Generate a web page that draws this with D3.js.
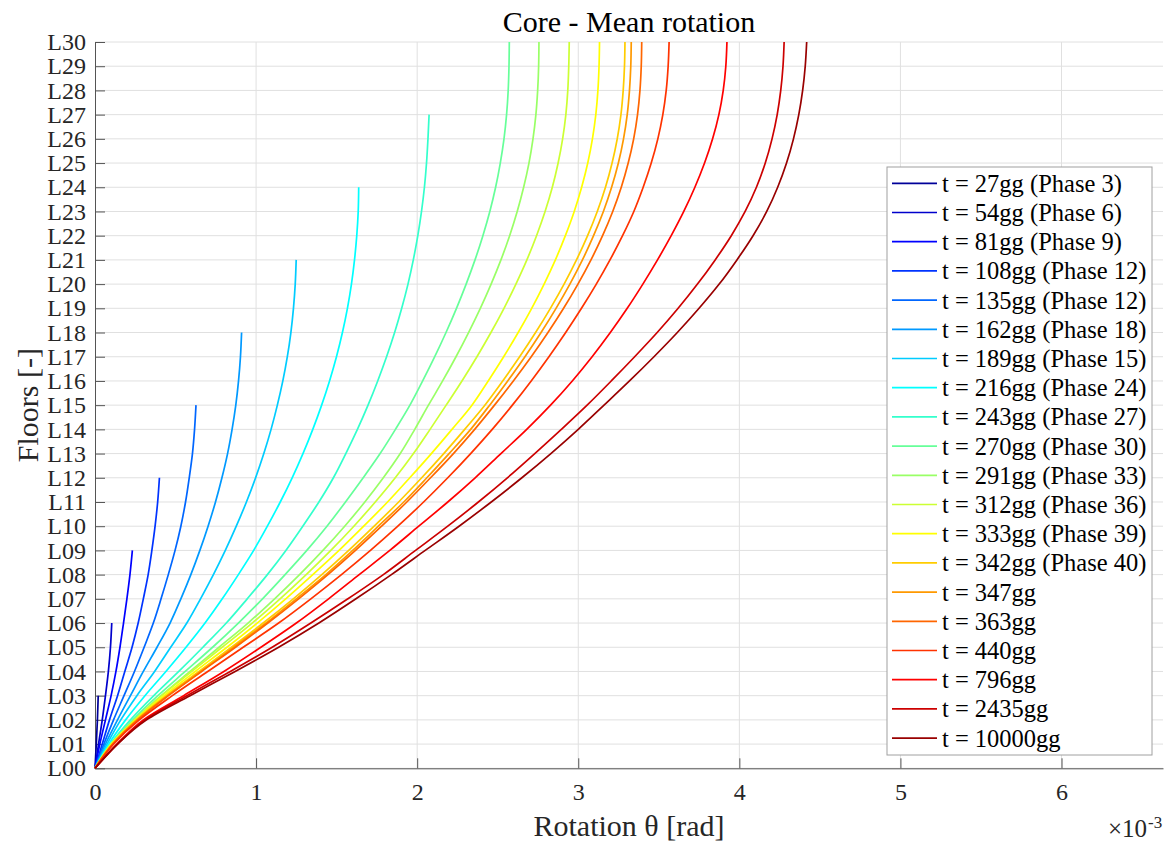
<!DOCTYPE html>
<html>
<head>
<meta charset="utf-8">
<script src="https://cdn.jsdelivr.net/npm/d3@7"></script>
<style>
  body { margin: 0; background: #fff; }
  text { font-family: "Liberation Serif", "Times New Roman", serif; }
</style>
</head>
<body>
<svg id="chart" width="1170" height="843"></svg>
<script>
// rotation values (x 1e-3 rad), one value per floor starting at L00
const s27 = [0, 0.008, 0.015, 0.02];
const s54 = [0, 0.022, 0.045, 0.065, 0.083, 0.096, 0.104];
const s81 = [0, 0.03, 0.065, 0.10, 0.13, 0.155, 0.177, 0.198, 0.217, 0.232];
const s108 = [0, 0.045, 0.09, 0.14, 0.185, 0.23, 0.268, 0.30, 0.33, 0.353, 0.373, 0.389, 0.40];
const s135 = [0, 0.055, 0.115, 0.18, 0.245, 0.305, 0.362, 0.41, 0.455, 0.497, 0.533, 0.562, 0.585, 0.605, 0.618, 0.627];
const s162 = [0, 0.065, 0.14, 0.22, 0.30, 0.385, 0.466, 0.533, 0.595, 0.651, 0.702, 0.748, 0.788, 0.823, 0.851, 0.874, 0.891, 0.903, 0.91];
const s189 = [0, 0.075, 0.16, 0.26, 0.37, 0.47, 0.57, 0.655, 0.735, 0.809, 0.877, 0.94, 0.997, 1.048, 1.093, 1.132, 1.166, 1.194, 1.216, 1.232, 1.243, 1.249];
const s216 = [0, 0.085, 0.19, 0.31, 0.44, 0.565, 0.683, 0.79, 0.89, 0.985, 1.07, 1.15, 1.224, 1.291, 1.352, 1.407, 1.456, 1.499, 1.536, 1.567, 1.592, 1.611, 1.625, 1.634, 1.637];
const s243 = [0, 0.095, 0.22, 0.365, 0.52, 0.67, 0.815, 0.945, 1.07, 1.185, 1.29, 1.39, 1.48, 1.557, 1.629, 1.695, 1.755, 1.81, 1.86, 1.904, 1.943, 1.976, 2.004, 2.027, 2.045, 2.058, 2.067, 2.074];
const s270 = [0, 0.1, 0.235, 0.39, 0.56, 0.73, 0.89, 1.04, 1.18, 1.315, 1.44, 1.555, 1.665, 1.77, 1.865, 1.955, 2.034, 2.109, 2.179, 2.244, 2.304, 2.359, 2.408, 2.451, 2.487, 2.516, 2.539, 2.555, 2.565, 2.57, 2.572];
const s291 = [0, 0.1, 0.245, 0.41, 0.59, 0.77, 0.95, 1.115, 1.27, 1.415, 1.55, 1.675, 1.79, 1.895, 1.985, 2.07, 2.158, 2.241, 2.319, 2.392, 2.459, 2.52, 2.574, 2.621, 2.661, 2.694, 2.719, 2.737, 2.748, 2.754, 2.756];
const s312 = [0, 0.099, 0.247, 0.414, 0.601, 0.789, 0.976, 1.149, 1.311, 1.464, 1.607, 1.74, 1.864, 1.977, 2.08, 2.18, 2.278, 2.371, 2.458, 2.539, 2.613, 2.681, 2.741, 2.794, 2.839, 2.875, 2.903, 2.923, 2.935, 2.941, 2.944];
const s333 = [0, 0.104, 0.252, 0.429, 0.622, 0.819, 1.007, 1.184, 1.352, 1.515, 1.668, 1.816, 1.954, 2.088, 2.216, 2.34, 2.441, 2.537, 2.627, 2.711, 2.788, 2.858, 2.92, 2.975, 3.021, 3.059, 3.088, 3.109, 3.122, 3.129, 3.132];
const s342 = [0, 0.108, 0.256, 0.443, 0.645, 0.847, 1.044, 1.231, 1.408, 1.575, 1.733, 1.885, 2.028, 2.165, 2.295, 2.42, 2.531, 2.636, 2.735, 2.827, 2.912, 2.989, 3.058, 3.118, 3.169, 3.21, 3.242, 3.265, 3.279, 3.287, 3.29];
const s347 = [0, 0.109, 0.262, 0.45, 0.657, 0.86, 1.062, 1.25, 1.433, 1.60, 1.759, 1.917, 2.06, 2.198, 2.332, 2.45, 2.562, 2.669, 2.769, 2.862, 2.948, 3.026, 3.095, 3.156, 3.207, 3.249, 3.281, 3.304, 3.318, 3.326, 3.329];
const s363 = [0, 0.11, 0.265, 0.456, 0.662, 0.872, 1.073, 1.264, 1.446, 1.617, 1.779, 1.936, 2.083, 2.225, 2.357, 2.48, 2.597, 2.708, 2.812, 2.909, 2.998, 3.079, 3.151, 3.214, 3.267, 3.31, 3.344, 3.368, 3.383, 3.391, 3.394];
const s440 = [0, 0.115, 0.275, 0.48, 0.70, 0.92, 1.14, 1.34, 1.53, 1.71, 1.88, 2.04, 2.19, 2.332, 2.466, 2.591, 2.708, 2.818, 2.922, 3.02, 3.112, 3.197, 3.275, 3.345, 3.403, 3.453, 3.494, 3.525, 3.546, 3.558, 3.564];
const s796 = [0, 0.135, 0.30, 0.55, 0.80, 1.03, 1.25, 1.45, 1.64, 1.83, 2.01, 2.19, 2.36, 2.52, 2.68, 2.828, 2.963, 3.086, 3.199, 3.304, 3.401, 3.492, 3.577, 3.655, 3.724, 3.784, 3.834, 3.873, 3.90, 3.916, 3.923];
const s2435 = [0, 0.14, 0.31, 0.57, 0.84, 1.10, 1.34, 1.57, 1.79, 1.99, 2.19, 2.38, 2.56, 2.73, 2.895, 3.055, 3.205, 3.35, 3.49, 3.62, 3.74, 3.85, 3.95, 4.036, 4.106, 4.161, 4.203, 4.235, 4.257, 4.271, 4.278];
const s10000 = [0, 0.14, 0.32, 0.59, 0.87, 1.14, 1.39, 1.62, 1.84, 2.05, 2.26, 2.46, 2.65, 2.83, 3.00, 3.16, 3.318, 3.47, 3.615, 3.75, 3.875, 3.985, 4.085, 4.17, 4.238, 4.293, 4.336, 4.369, 4.393, 4.409, 4.418];

const seriesNames = [
  't = 27gg (Phase 3)', 't = 54gg (Phase 6)', 't = 81gg (Phase 9)', 't = 108gg (Phase 12)',
  't = 135gg (Phase 12)', 't = 162gg (Phase 18)', 't = 189gg (Phase 15)', 't = 216gg (Phase 24)',
  't = 243gg (Phase 27)', 't = 270gg (Phase 30)', 't = 291gg (Phase 33)', 't = 312gg (Phase 36)',
  't = 333gg (Phase 39)', 't = 342gg (Phase 40)', 't = 347gg', 't = 363gg',
  't = 440gg', 't = 796gg', 't = 2435gg', 't = 10000gg'
];
const seriesValues = [s27, s54, s81, s108, s135, s162, s189, s216, s243, s270,
  s291, s312, s333, s342, s347, s363, s440, s796, s2435, s10000];

const floorTicks = d3.range(0, 31);
const floorLabels = floorTicks.map(f => 'L' + String(f).padStart(2, '0'));
const xTicks = [0, 1, 2, 3, 4, 5, 6];

// jet(20) colormap, same as matlab
const jet = [
  [0,0,0.6],[0,0,0.8],[0,0,1],[0,0.2,1],[0,0.4,1],[0,0.6,1],[0,0.8,1],[0,1,1],
  [0.2,1,0.8],[0.4,1,0.6],[0.6,1,0.4],[0.8,1,0.2],[1,1,0],[1,0.8,0],[1,0.6,0],
  [1,0.4,0],[1,0.2,0],[1,0,0],[0.8,0,0],[0.6,0,0]
].map(c => d3.rgb(c[0]*255, c[1]*255, c[2]*255).formatHex());

const svg = d3.select('#chart');
const pLeft = 95, pRight = 1163, pTop = 42, pBottom = 768.3;

const x = d3.scaleLinear().domain([0, 6.63]).range([pLeft, pRight]);
const y = d3.scaleLinear().domain([0, 30]).range([pBottom, pTop]);

// grid
const grid = svg.append('g').attr('class', 'grid');
grid.selectAll('line.h').data(floorTicks).enter().append('line')
  .attr('x1', pLeft).attr('x2', pRight)
  .attr('y1', d => y(d)).attr('y2', d => y(d))
  .attr('stroke', '#e0e0e0').attr('stroke-width', 1);
grid.selectAll('line.v').data(xTicks.slice(1)).enter().append('line')
  .attr('x1', d => x(d)).attr('x2', d => x(d))
  .attr('y1', pTop).attr('y2', pBottom)
  .attr('stroke', '#e0e0e0').attr('stroke-width', 1);

// axes, ticks pointing inwards
const yAxis = svg.append('g')
  .attr('transform', `translate(${pLeft},0)`)
  .call(d3.axisLeft(y).tickValues(floorTicks).tickFormat((d, i) => floorLabels[i])
    .tickSizeInner(-10).tickSizeOuter(0).tickPadding(9));
const xAxis = svg.append('g')
  .attr('transform', `translate(0,${pBottom})`)
  .call(d3.axisBottom(x).tickValues(xTicks).tickFormat(d3.format('d'))
    .tickSizeInner(-10).tickSizeOuter(0).tickPadding(15));
[yAxis, xAxis].forEach(a => {
  a.attr('font-family', '"Liberation Serif", serif');
  a.select('.domain').attr('stroke', '#555');
  a.selectAll('.tick line').attr('stroke', '#555');
  a.selectAll('text').attr('font-size', 24).attr('fill', '#262626');
});

// curves, smoothed between floor values
const line = d3.line().x(d => x(d[0])).y(d => y(d[1])).curve(d3.curveMonotoneY);
svg.append('g').selectAll('path')
  .data(seriesValues)
  .enter()
  .append('path')
  .attr('d', v => line(v.map((r, f) => [r, f])))
  .attr('fill', 'none')
  .attr('stroke', (d, i) => jet[i])
  .attr('stroke-width', 1.7);

// titles
svg.append('text').attr('x', (pLeft + pRight) / 2).attr('y', 32)
  .attr('text-anchor', 'middle').attr('font-size', 30).attr('fill', '#000')
  .text('Core - Mean rotation');
svg.append('text').attr('x', (pLeft + pRight) / 2).attr('y', 836)
  .attr('text-anchor', 'middle').attr('font-size', 30).attr('fill', '#262626')
  .text('Rotation θ [rad]');
svg.append('text')
  .attr('transform', `translate(38,${(pTop + pBottom) / 2}) rotate(-90)`)
  .attr('text-anchor', 'middle').attr('font-size', 30).attr('fill', '#262626')
  .text('Floors [-]');
svg.append('text').attr('x', 1147).attr('y', 837).attr('text-anchor', 'end')
  .attr('font-size', 25).attr('fill', '#262626').text('×10');
svg.append('text').attr('x', 1148).attr('y', 828)
  .attr('font-size', 17).attr('fill', '#262626').text('-3');

// legend
const lg = svg.append('g');
lg.append('rect').attr('x', 887).attr('y', 167).attr('width', 265).attr('height', 588)
  .attr('fill', '#fff').attr('stroke', '#a0a0a0').attr('stroke-width', 1);
const rows = lg.selectAll('g.row').data(seriesNames).enter().append('g')
  .attr('transform', (d, i) => `translate(0,${183.3 + i * 29.2})`);
rows.append('line').attr('x1', 892).attr('x2', 937).attr('y1', 0).attr('y2', 0)
  .attr('stroke', (d, i) => jet[i]).attr('stroke-width', 1.7);
rows.append('text').attr('x', 942).attr('y', 0).attr('dy', '0.35em')
  .attr('font-size', 24.5).attr('fill', '#000').text(d => d);
</script>
</body>
</html>
